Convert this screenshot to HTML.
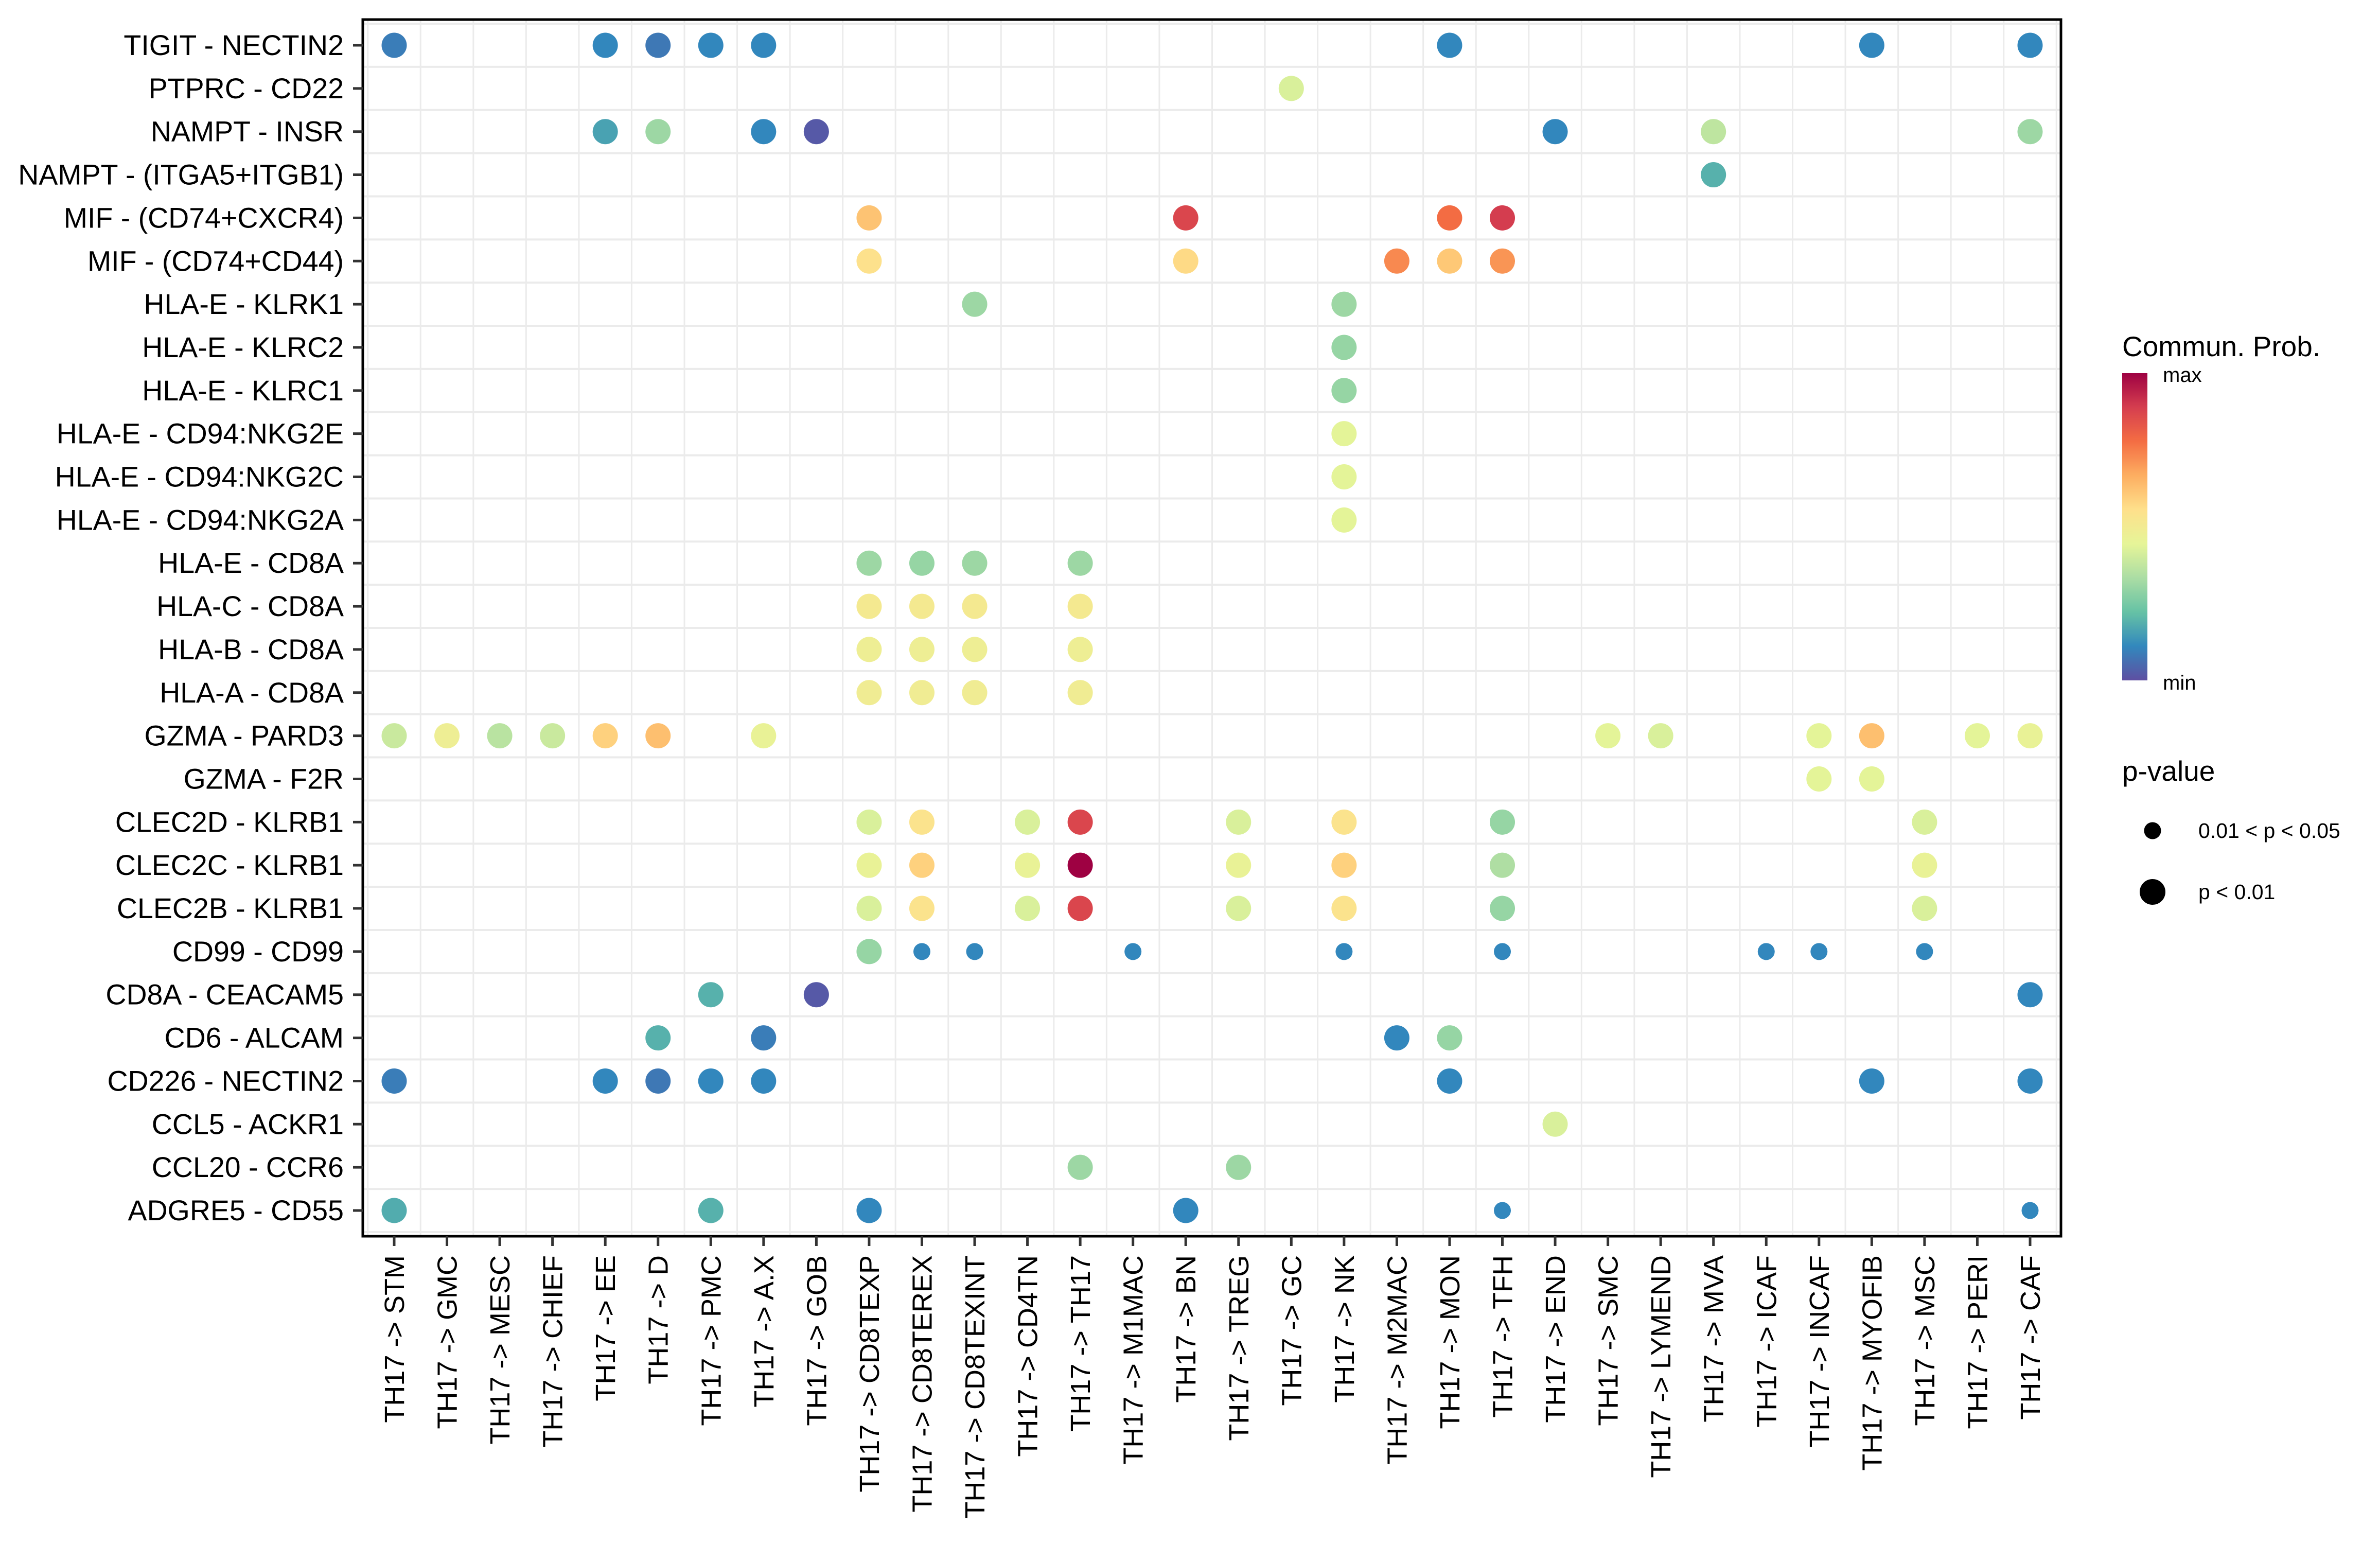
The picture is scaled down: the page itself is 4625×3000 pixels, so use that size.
<!DOCTYPE html>
<html><head><meta charset="utf-8"><style>html,body{margin:0;padding:0;background:#fff}svg{display:block}text{font-family:"Liberation Sans",Arial,sans-serif;fill:#000}</style></head>
<body>
<svg id="chart" width="4625" height="3000" viewBox="0 0 4625 3000" xmlns="http://www.w3.org/2000/svg">
<defs><linearGradient id="spec" x1="0" y1="1" x2="0" y2="0">
<stop offset="0" stop-color="#5E4FA2"/><stop offset="0.1111" stop-color="#3288BD"/><stop offset="0.2222" stop-color="#66C2A5"/><stop offset="0.3333" stop-color="#ABDDA4"/><stop offset="0.4444" stop-color="#E6F598"/><stop offset="0.5556" stop-color="#FEE08B"/><stop offset="0.6667" stop-color="#FDAE61"/><stop offset="0.7778" stop-color="#F46D43"/><stop offset="0.8889" stop-color="#D53E4F"/><stop offset="1" stop-color="#9E0142"/></linearGradient></defs>
<g id="grid"></g>
<g id="dots"></g>
<rect x="705" y="38" width="3300" height="2364" fill="none" stroke="#000" stroke-width="5"/>
<g id="yaxis"></g>
<g id="xaxis"></g>
<g>
<text x="4124" y="692" font-size="55">Commun. Prob.</text>
<rect x="4124" y="725" width="49" height="597" fill="url(#spec)"/>
<text x="4203" y="742" font-size="40">max</text>
<text x="4203" y="1340" font-size="40">min</text>
<text x="4124" y="1517" font-size="55">p-value</text>
<circle cx="4183" cy="1614" r="16.5" fill="#000"/>
<circle cx="4183" cy="1733" r="25" fill="#000"/>
<text x="4272" y="1628" font-size="41">0.01 &lt; p &lt; 0.05</text>
<text x="4272" y="1747" font-size="41">p &lt; 0.01</text>
</g>
</svg>
<script>
const rows = ["TIGIT - NECTIN2","PTPRC - CD22","NAMPT - INSR","NAMPT - (ITGA5+ITGB1)","MIF - (CD74+CXCR4)","MIF - (CD74+CD44)","HLA-E - KLRK1","HLA-E - KLRC2","HLA-E - KLRC1","HLA-E - CD94:NKG2E","HLA-E - CD94:NKG2C","HLA-E - CD94:NKG2A","HLA-E - CD8A","HLA-C - CD8A","HLA-B - CD8A","HLA-A - CD8A","GZMA - PARD3","GZMA - F2R","CLEC2D - KLRB1","CLEC2C - KLRB1","CLEC2B - KLRB1","CD99 - CD99","CD8A - CEACAM5","CD6 - ALCAM","CD226 - NECTIN2","CCL5 - ACKR1","CCL20 - CCR6","ADGRE5 - CD55"];
const cols = ["STM","GMC","MESC","CHIEF","EE","D","PMC","A.X","GOB","CD8TEXP","CD8TEREX","CD8TEXINT","CD4TN","TH17","M1MAC","BN","TREG","GC","NK","M2MAC","MON","TFH","END","SMC","LYMEND","MVA","ICAF","INCAF","MYOFIB","MSC","PERI","CAF"];
// point data: row index, column index, probability (0..1 scale), significance (1 = p<0.01, 0 = 0.01<p<0.05)
const ptRow = [0,0,0,0,0,0,0,0, 1, 2,2,2,2,2,2,2, 3, 4,4,4,4, 5,5,5,5,5, 6,6, 7,8,9,10,11, 12,12,12,12, 13,13,13,13, 14,14,14,14, 15,15,15,15, 16,16,16,16,16,16,16,16,16,16,16,16,16, 17,17, 18,18,18,18,18,18,18,18, 19,19,19,19,19,19,19,19, 20,20,20,20,20,20,20,20, 21,21,21,21,21,21,21,21,21, 22,22,22, 23,23,23,23, 24,24,24,24,24,24,24,24, 25, 26,26, 27,27,27,27,27,27];
const ptCol = [0,4,5,6,7,20,28,31, 17, 4,5,7,8,22,25,31, 25, 9,15,20,21, 9,15,19,20,21, 11,18, 18,18,18,18,18, 9,10,11,13, 9,10,11,13, 9,10,11,13, 9,10,11,13, 0,1,2,3,4,5,7,23,24,27,28,30,31, 27,28, 9,10,12,13,16,18,21,29, 9,10,12,13,16,18,21,29, 9,10,12,13,16,18,21,29, 9,10,11,14,18,21,26,27,29, 6,8,31, 5,7,19,20, 0,4,5,6,7,20,28,31, 22, 13,16, 0,6,9,15,21,31];
const ptVal = [0.09,0.11,0.08,0.11,0.11,0.11,0.11,0.11, 0.42, 0.16,0.31,0.11,0.02,0.11,0.37,0.31, 0.19, 0.62,0.87,0.78,0.89, 0.55,0.57,0.73,0.61,0.71, 0.31,0.31, 0.3,0.3,0.44,0.44,0.44, 0.31,0.3,0.31,0.31, 0.51,0.51,0.51,0.51, 0.48,0.48,0.48,0.48, 0.49,0.49,0.49,0.49, 0.39,0.48,0.36,0.39,0.59,0.63,0.46,0.44,0.42,0.44,0.63,0.44,0.46, 0.44,0.44, 0.42,0.54,0.42,0.87,0.42,0.54,0.3,0.42, 0.46,0.59,0.46,1.0,0.46,0.59,0.34,0.46, 0.42,0.54,0.42,0.87,0.42,0.54,0.3,0.42, 0.3,0.11,0.11,0.11,0.11,0.11,0.11,0.11,0.11, 0.19,0.02,0.11, 0.19,0.09,0.11,0.3, 0.09,0.11,0.08,0.11,0.11,0.11,0.11,0.11, 0.42, 0.31,0.31, 0.18,0.19,0.11,0.11,0.11,0.11];
const ptSig = [1,1,1,1,1,1,1,1, 1, 1,1,1,1,1,1,1, 1, 1,1,1,1, 1,1,1,1,1, 1,1, 1,1,1,1,1, 1,1,1,1, 1,1,1,1, 1,1,1,1, 1,1,1,1, 1,1,1,1,1,1,1,1,1,1,1,1,1, 1,1, 1,1,1,1,1,1,1,1, 1,1,1,1,1,1,1,1, 1,1,1,1,1,1,1,1, 1,0,0,0,0,0,0,0,0, 1,1,1, 1,1,1,1, 1,1,1,1,1,1,1,1, 1, 1,1, 1,1,1,1,0,0];

const NS = "http://www.w3.org/2000/svg";
const X0 = 766, DX = (3945 - 766) / 31, Y0 = 88, DY = (2352 - 88) / 27;
function xScale(i){ return X0 + i * DX; }
function yScale(i){ return Y0 + i * DY; }
const stops = ["#5E4FA2","#3288BD","#66C2A5","#ABDDA4","#E6F598","#FEE08B","#FDAE61","#F46D43","#D53E4F","#9E0142"];
function hex(h){ return [1,3,5].map(k => parseInt(h.substr(k,2),16)); }
function colorScale(v){
  const n = stops.length - 1;
  v = Math.max(0, Math.min(1, v)) * n;
  const i = Math.min(n - 1, Math.floor(v)), t = v - i;
  const a = hex(stops[i]), b = hex(stops[i+1]);
  return "rgb(" + a.map((c,k) => Math.round(c + (b[k]-c)*t)).join(",") + ")";
}
function mk(tag, attrs, parent){ const e = document.createElementNS(NS, tag); for (const k in attrs) e.setAttribute(k, attrs[k]); parent.appendChild(e); return e; }

const grid = document.getElementById("grid");
for (let i = 0; i <= cols.length; i++) {
  const gx = xScale(i - 0.5);
  if (gx <= 706 || gx >= 4004) continue;
  const l = mk("line", {x1: gx, x2: gx, y1: 38, y2: 2402, stroke: "#EBEBEB", "stroke-width": 3}, grid);
  
  
}
for (let i = 0; i <= rows.length; i++) {
  const gy = yScale(i - 0.5);
  if (gy <= 39 || gy >= 2401) continue;
  const l = mk("line", {x1: 705, x2: 4005, y1: gy, y2: gy, stroke: "#EBEBEB", "stroke-width": 4}, grid);
  
  
}

const dots = document.getElementById("dots");
for (let k = 0; k < ptRow.length; k++) {
  const c = mk("circle", {cx: xScale(ptCol[k]), cy: yScale(ptRow[k]), r: ptSig[k] ? 24.5 : 16.5, fill: colorScale(ptVal[k])}, dots);
  
  
}

const ya = document.getElementById("yaxis");
rows.forEach((r, i) => {
  const y = yScale(i);
  const t = mk("line", {x1: 686, x2: 705, y1: y, y2: y, stroke: "#333", "stroke-width": 5}, ya);
  
  
  const tx = mk("text", {x: 668, y: y + 19, "font-size": 55.5, "text-anchor": "end"}, ya);
  tx.textContent = r;
  
  
});
const xa = document.getElementById("xaxis");
cols.forEach((c, i) => {
  const x = xScale(i);
  const t = mk("line", {x1: x, x2: x, y1: 2402, y2: 2421, stroke: "#333", "stroke-width": 5}, xa);
  
  
  const tx = mk("text", {x: x + 19, y: 2439, "font-size": 54, "text-anchor": "end", transform: "rotate(-90 " + (x + 19) + " 2439)"}, xa);
  tx.textContent = "TH17 -> " + c;
  
  
});
</script>
</body></html>
